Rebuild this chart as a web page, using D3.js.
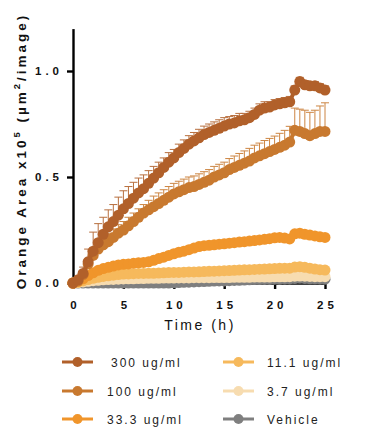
<!doctype html>
<html>
<head>
<meta charset="utf-8">
<style>
  body {margin:0; background:#fff;}
  svg {display:block; font-family:"Liberation Sans", Arial, sans-serif;}
  .axis path, .axis line {stroke:#000; stroke-width:2.4px;}
  .axis text {font-size:11.5px; font-weight:bold; fill:#111; letter-spacing:4px;}
</style>
<script src="https://d3js.org/d3.v7.min.js"></script>
</head>
<body>
<script>
// hours
var times = [0,0.5,1,1.5,2,2.5,3,3.5,4,4.5,5,5.5,6,6.5,7,7.5,8,8.5,9,9.5,10,10.5,11,11.5,12,12.5,
             13,13.5,14,14.5,15,15.5,16,16.5,17,17.5,18,18.5,19,19.5,20,20.5,21,21.5,22,22.5,23,23.5,24,24.5,25];

var s300 = [0,0.015,0.045,0.10,0.15,0.19,0.23,0.265,0.29,0.32,0.35,0.375,0.40,0.425,0.445,0.47,0.495,0.52,0.545,0.57,
            0.59,0.615,0.635,0.655,0.67,0.685,0.70,0.71,0.72,0.73,0.74,0.75,0.755,0.765,0.77,0.78,0.795,0.815,0.825,0.83,
            0.84,0.845,0.85,0.855,0.91,0.95,0.935,0.93,0.93,0.92,0.91];
var e300 = [0,0.01,0.03,0.06,0.09,0.09,0.08,0.08,0.08,0.085,0.085,0.08,0.075,0.07,0.065,0.06,0.055,0.05,0.045,0.045,
            0.04,0.04,0.04,0.04,0.04,0.04,0.04,0.04,0.04,0.04,0.04,0.035,0.035,0.035,0.03,0.03,0.03,0.03,0.03,0.025,
            0.025,0.025,0.025,0.025,0.02,0.02,0.02,0.02,0.02,0.02,0.02];

var s100 = [0,0.01,0.04,0.09,0.13,0.16,0.18,0.195,0.215,0.235,0.25,0.27,0.29,0.31,0.33,0.345,0.36,0.375,0.39,0.405,
            0.42,0.43,0.44,0.45,0.455,0.465,0.475,0.485,0.50,0.51,0.52,0.535,0.545,0.555,0.565,0.575,0.59,0.60,0.61,0.62,
            0.63,0.64,0.65,0.665,0.72,0.715,0.705,0.695,0.705,0.715,0.715];
var e100 = [0,0.005,0.01,0.02,0.03,0.035,0.04,0.04,0.04,0.04,0.04,0.04,0.04,0.04,0.04,0.045,0.05,0.05,0.05,0.05,
            0.05,0.05,0.05,0.05,0.05,0.05,0.05,0.05,0.05,0.05,0.05,0.052,0.054,0.056,0.058,0.06,0.06,0.06,0.062,0.062,
            0.063,0.066,0.07,0.074,0.105,0.105,0.11,0.11,0.11,0.12,0.135];

var s33 = [0,0.008,0.02,0.035,0.048,0.06,0.068,0.074,0.08,0.085,0.088,0.09,0.093,0.095,0.097,0.10,0.107,0.115,0.122,0.13,
           0.138,0.145,0.15,0.157,0.165,0.172,0.176,0.178,0.18,0.183,0.185,0.188,0.19,0.193,0.195,0.198,0.20,0.203,0.206,0.209,
           0.213,0.215,0.212,0.208,0.232,0.235,0.23,0.226,0.222,0.218,0.215];

var s11 = [0,0.004,0.01,0.016,0.022,0.027,0.031,0.034,0.037,0.04,0.042,0.043,0.044,0.045,0.045,0.046,0.046,0.047,0.048,0.049,
           0.05,0.05,0.051,0.052,0.052,0.053,0.054,0.055,0.056,0.057,0.058,0.059,0.06,0.061,0.062,0.063,0.064,0.065,0.066,0.067,
           0.068,0.069,0.07,0.07,0.075,0.077,0.074,0.07,0.066,0.063,0.061];

var s37 = [0,0.002,0.005,0.008,0.011,0.013,0.015,0.016,0.017,0.018,0.019,0.02,0.02,0.021,0.021,0.022,0.022,0.022,0.023,0.023,
           0.023,0.024,0.024,0.024,0.025,0.025,0.025,0.025,0.026,0.026,0.026,0.026,0.027,0.027,0.027,0.027,0.028,0.028,0.028,0.028,
           0.029,0.029,0.029,0.03,0.032,0.033,0.032,0.031,0.03,0.03,0.03];

var sVeh = [0,0,0,0,0,0,0,0,0,0,0,0,0,0,0,0,0,0,0,0,
            0.001,0.002,0.003,0.004,0.005,0.006,0.007,0.008,0.009,0.01,0.01,0.011,0.012,0.013,0.014,0.015,0.016,0.016,0.017,0.017,
            0.018,0.018,0.019,0.019,0.021,0.022,0.021,0.02,0.02,0.019,0.018];

var labels = ["300 ug/ml","100 ug/ml","33.3 ug/ml","11.1 ug/ml","3.7 ug/ml","Vehicle"];
var colors = ["#b1602a","#c8792f","#f0952b","#f6b95c","#f7dcb0","#7f7f7f"];
var xTicks = [0,5,10,15,20,25];
var yTicks = [0,0.5,1.0];

var series = [
  {name:labels[5], color:colors[5], v:sVeh, e:null},
  {name:labels[4], color:colors[4], v:s37, e:null},
  {name:labels[3], color:colors[3], v:s11, e:null},
  {name:labels[2], color:colors[2], v:s33, e:null},
  {name:labels[1], color:colors[1], v:s100, e:e100},
  {name:labels[0], color:colors[0], v:s300, e:e300}
];

var W = 365, H = 440;
var svg = d3.select("body").append("svg").attr("width",W).attr("height",H);

var x = d3.scaleLinear().domain([0,25]).range([73,325]);
var y = d3.scaleLinear().domain([0,1.2]).range([283,28.6]);

// axes
svg.append("g").attr("class","axis").attr("transform","translate(0,283)")
  .call(d3.axisBottom(x).tickValues(xTicks).tickSize(6).tickPadding(12).tickSizeOuter(0))
  .selectAll("text").attr("dx","2px");
svg.append("g").attr("class","axis").attr("transform","translate(73,0)")
  .call(d3.axisLeft(y).tickValues(yTicks).tickSize(6).tickPadding(4).tickSizeOuter(0).tickFormat(d3.format(".1f")));

// error bars first, then lines and markers
var line = d3.line().x(function(d,i){return x(times[i]);}).y(function(d){return y(d);});

series.forEach(function(s){
  var g = svg.append("g");
  if (s.e) {
    var eb = g.append("g").attr("stroke",s.color).attr("stroke-width",1).attr("opacity",0.9);
    s.v.forEach(function(v,i){
      if (!s.e[i]) return;
      var top = y(v + s.e[i]);
      eb.append("line").attr("x1",x(times[i])).attr("x2",x(times[i])).attr("y1",y(v)).attr("y2",top);
      eb.append("line").attr("x1",x(times[i])-4).attr("x2",x(times[i])+4).attr("y1",top).attr("y2",top);
    });
  }
  g.append("path").datum(s.v).attr("d",line).attr("fill","none").attr("stroke",s.color).attr("stroke-width",4);
  g.selectAll("circle").data(s.v).enter().append("circle")
    .attr("cx",function(d,i){return x(times[i]);})
    .attr("cy",function(d){return y(d);})
    .attr("r",5.5).attr("fill",s.color);
});

// axis titles
svg.append("text").attr("x",200).attr("y",330).attr("text-anchor","middle")
  .style("font-size","14px").style("letter-spacing","2.5px").attr("fill","#111").text("Time (h)");

var yt = svg.append("text").attr("transform","translate(26,151) rotate(-90)").attr("text-anchor","middle")
  .style("font-size","13.5px").style("font-weight","bold").style("letter-spacing","3px").attr("fill","#111");
yt.append("tspan").text("Orange Area x10");
yt.append("tspan").attr("dy","-6").style("font-size","9.5px").text("5");
yt.append("tspan").attr("dy","6").text(" (\u00b5m");
yt.append("tspan").attr("dy","-6").style("font-size","9.5px").text("2");
yt.append("tspan").attr("dy","6").text("/image)");

// legend
var legendPos = [
  {lx:62, ty:362, tx:111},
  {lx:62, ty:391, tx:107},
  {lx:62, ty:419, tx:107},
  {lx:223, ty:362, tx:267},
  {lx:223, ty:391, tx:267},
  {lx:223, ty:419, tx:267}
];
labels.forEach(function(lab,i){
  var p = legendPos[i];
  var g = svg.append("g");
  g.append("line").attr("x1",p.lx).attr("x2",p.lx+31).attr("y1",p.ty).attr("y2",p.ty)
    .attr("stroke",colors[i]).attr("stroke-width",3);
  g.append("circle").attr("cx",p.lx+15.5).attr("cy",p.ty).attr("r",5).attr("fill",colors[i]);
  g.append("text").attr("x",p.tx).attr("y",p.ty+4.5).style("font-size","12px")
    .style("letter-spacing","2px").attr("fill","#222").text(lab);
});
</script>
</body>
</html>
